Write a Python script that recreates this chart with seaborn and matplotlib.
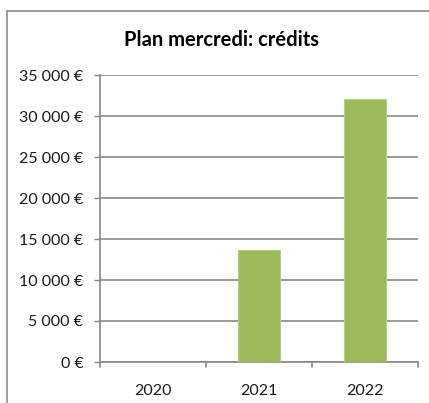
import matplotlib
matplotlib.use("Agg")
import matplotlib.pyplot as plt
import seaborn as sns
import pandas as pd
from matplotlib.lines import Line2D

years = ["2020", "2021", "2022"]
credits = [0, 13700, 32100]
yticks = [0, 5000, 10000, 15000, 20000, 25000, 30000, 35000]
ytick_labels = ["0 €", "5 000 €", "10 000 €", "15 000 €", "20 000 €", "25 000 €", "30 000 €", "35 000 €"]
title = "Plan mercredi: crédits"

sns.set_theme(style="white")
plt.rcParams['font.family'] = ['Lato', 'DejaVu Sans']

W, H = 429, 403
fig = plt.figure(figsize=(W / 100, H / 100), dpi=100)
ax = fig.add_axes([100 / W, 1 - 362 / H, 318 / W, 287 / H])

df = pd.DataFrame({"year": years, "credits": credits})
sns.barplot(data=df, x="year", y="credits", color="#9BBB59", width=0.39,
            edgecolor="#B5CE82", linewidth=0.8, saturation=1, ax=ax, zorder=3)

ax.set_ylim(0, 35000)
ax.set_xlim(-0.5, 2.5)
ax.set_yticks(yticks)
ax.set_yticklabels(ytick_labels, fontsize=11.5, color="#1a1a1a")
ax.tick_params(axis="x", labelsize=11.5, colors="#1a1a1a", length=0, pad=16)
ax.tick_params(axis="y", length=4, width=1, color="#878787", pad=8, left=True)
ax.set_xlabel("")
ax.set_ylabel("")
ax.yaxis.grid(True, color="#878787", linewidth=1.2, zorder=0)
ax.set_axisbelow(True)
for s in ["top", "right"]:
    ax.spines[s].set_visible(False)
for s in ["left", "bottom"]:
    ax.spines[s].set_color("#878787")
    ax.spines[s].set_linewidth(1.2)

# x-axis category boundary ticks
for xb in [-0.5, 0.5, 1.5, 2.5]:
    ax.plot([xb, xb], [0, -0.018], transform=ax.get_xaxis_transform(),
            color="#878787", linewidth=1.2, clip_on=False)

fig.text(221 / W, 1 - 40 / H, title, ha="center", va="center",
         fontsize=14.5, fontweight="bold", color="#000000")

# chart border (outer frame)
fig.add_artist(Line2D([7 / W, 7 / W], [1 - 11 / H, 0], transform=fig.transFigure,
                      color="#8c8c8c", linewidth=1.2))
fig.add_artist(Line2D([7 / W, 1], [1 - 11 / H, 1 - 11 / H], transform=fig.transFigure,
                      color="#8c8c8c", linewidth=1.2))

fig.savefig("out.png", dpi=100)
